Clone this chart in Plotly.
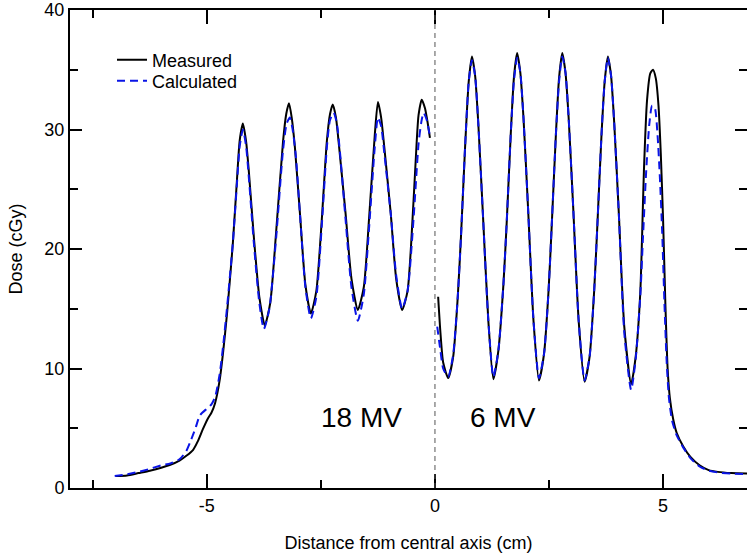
import plotly.graph_objects as go

# ---- data: 18 MV (left of the central axis) ----
x18_meas = [-7.0, -6.75, -6.5, -6.25, -6.0, -5.8, -5.6, -5.45, -5.3, -5.2, -5.09, -4.98, -4.9,
            -4.82, -4.72, -4.64, -4.56, -4.5, -4.43, -4.34, -4.28, -4.21, -4.14, -4.08, -3.97,
            -3.85, -3.73, -3.61, -3.48, -3.33, -3.26, -3.2, -3.14, -3.07, -2.96, -2.84, -2.72,
            -2.6, -2.48, -2.37, -2.3, -2.24, -2.17, -2.1, -1.96, -1.83, -1.69, -1.56, -1.44,
            -1.32, -1.25, -1.18, -1.11, -0.97, -0.85, -0.72, -0.6, -0.47, -0.4, -0.36, -0.29,
            -0.22, -0.17, -0.11]
y18_meas = [1.0, 1.05, 1.25, 1.45, 1.7, 1.95, 2.3, 2.7, 3.2, 3.9, 4.9, 5.8, 6.3,
            7.1, 9.0, 11.5, 14.5, 17.2, 20.5, 25.8, 29.1, 30.5, 29.0, 26.5, 21.0,
            16.0, 13.6, 15.5, 21.5, 29.0, 31.3, 32.2, 31.0, 28.5, 23.0, 17.0, 14.6,
            16.5, 22.5, 29.0, 31.3, 32.1, 31.0, 28.5, 23.0, 17.5, 14.9, 16.8, 22.8,
            29.5, 32.3, 31.0, 28.5, 23.0, 17.5, 14.9, 16.5, 24.0, 29.0, 31.2, 32.5,
            31.8, 30.8, 29.3]

x18_calc = [-7.02, -6.75, -6.5, -6.25, -6.0, -5.8, -5.6, -5.45, -5.37, -5.25, -5.15, -4.98, -4.9,
            -4.82, -4.72, -4.64, -4.56, -4.5, -4.43, -4.34, -4.28, -4.21, -4.14, -4.08, -3.97,
            -3.85, -3.75, -3.63, -3.48, -3.33, -3.25, -3.18, -3.12, -3.05, -2.96, -2.84, -2.72,
            -2.6, -2.48, -2.37, -2.3, -2.22, -2.15, -2.08, -1.96, -1.83, -1.69, -1.56, -1.44,
            -1.32, -1.25, -1.18, -1.11, -0.97, -0.85, -0.72, -0.6, -0.47, -0.36, -0.3, -0.25,
            -0.18, -0.11]
y18_calc = [1.0, 1.15, 1.35, 1.6, 1.9, 2.05, 2.4, 3.1, 3.8, 5.0, 6.1, 6.7, 7.0,
            7.6, 9.5, 12.0, 15.0, 17.5, 20.5, 25.5, 28.6, 30.0, 28.6, 26.0, 20.5,
            15.5, 13.3, 15.0, 21.0, 28.3, 30.5, 31.0, 30.0, 27.8, 23.0, 16.8, 14.2,
            16.0, 22.0, 28.5, 30.8, 31.4, 30.5, 28.0, 22.5, 16.8, 14.0, 16.2, 22.0,
            28.5, 31.0, 30.3, 28.0, 23.0, 17.8, 15.0, 16.5, 22.5, 28.8, 30.6, 31.4,
            30.8, 29.4]

# ---- data: 6 MV (right of the central axis) ----
x6_meas = [0.07, 0.12, 0.18, 0.29, 0.4, 0.5, 0.57, 0.66, 0.74, 0.81, 0.88, 0.95, 1.05, 1.17,
           1.28, 1.39, 1.5, 1.57, 1.66, 1.73, 1.8, 1.87, 1.94, 2.04, 2.16, 2.28, 2.39, 2.49,
           2.56, 2.65, 2.72, 2.79, 2.86, 2.93, 3.03, 3.15, 3.28, 3.39, 3.49, 3.56, 3.65, 3.72,
           3.79, 3.86, 3.93, 4.03, 4.15, 4.3, 4.4, 4.5, 4.54, 4.58, 4.65, 4.72, 4.78, 4.84,
           4.9, 4.95, 5.0, 5.05, 5.1, 5.15, 5.22, 5.3, 5.44, 5.6, 5.8, 6.0, 6.2, 6.5, 6.9]
y6_meas = [16.0, 13.0, 10.5, 9.2, 11.0, 16.0, 21.0, 28.5, 34.0, 36.1, 34.5, 30.5, 23.0, 14.0,
           9.1, 11.5, 17.0, 22.0, 29.5, 34.3, 36.4, 34.8, 31.0, 23.5, 14.0, 9.0, 11.2, 16.5,
           22.0, 29.5, 34.3, 36.4, 34.8, 31.0, 23.5, 14.0, 8.9, 11.0, 16.5, 22.0, 29.5, 34.0,
           36.1, 34.5, 30.5, 23.0, 13.5, 8.7, 11.0, 16.3, 21.0, 26.5, 32.5, 34.7, 35.0, 34.3,
           32.0, 28.0, 22.5, 15.5, 10.0, 7.5, 5.8, 4.6, 3.5, 2.6, 1.9, 1.5, 1.35, 1.25, 1.2]

x6_calc = [0.05, 0.12, 0.18, 0.29, 0.4, 0.5, 0.57, 0.66, 0.74, 0.81, 0.88, 0.95, 1.05, 1.17,
           1.28, 1.39, 1.5, 1.57, 1.66, 1.73, 1.8, 1.87, 1.94, 2.04, 2.16, 2.28, 2.39, 2.49,
           2.56, 2.65, 2.72, 2.79, 2.86, 2.93, 3.03, 3.15, 3.28, 3.39, 3.49, 3.56, 3.65, 3.72,
           3.79, 3.86, 3.93, 4.03, 4.15, 4.3, 4.4, 4.5, 4.56, 4.63, 4.7, 4.76, 4.82, 4.88,
           4.93, 4.98, 5.03, 5.08, 5.13, 5.2, 5.3, 5.44, 5.6, 5.8, 6.0, 6.2, 6.5, 6.9]
y6_calc = [13.5, 11.5, 10.0, 9.3, 11.2, 16.0, 21.0, 28.5, 34.0, 35.8, 34.5, 30.5, 23.0, 14.0,
           9.3, 11.5, 17.0, 22.0, 29.5, 34.0, 36.0, 34.8, 31.0, 23.5, 14.0, 9.2, 11.2, 16.5,
           22.0, 29.5, 34.0, 36.1, 34.8, 31.0, 23.5, 14.0, 9.0, 11.0, 16.5, 22.0, 29.5, 34.0,
           36.0, 34.5, 30.5, 23.0, 13.0, 8.2, 10.8, 16.0, 21.0, 26.5, 30.5, 32.0, 31.8, 29.5,
           26.0, 21.5, 15.5, 10.5, 7.5, 5.6, 4.4, 3.4, 2.5, 1.8, 1.45, 1.3, 1.2, 1.15]

labels = ["Measured", "Calculated"]
energy_labels = ["18 MV", "6 MV"]
energy_pos = [(-1.6, 5.9), (1.5, 5.9)]
x_tickvals = [-5, 0, 5]
x_ticktext = ["-5", "0", "5"]
y_tickvals = [0, 10, 20, 30, 40]

FONT = "Liberation Sans, Arial, Helvetica, sans-serif"

fig = go.Figure()
fig.add_trace(go.Scatter(
    x=x18_meas + [None] + x6_meas, y=y18_meas + [None] + y6_meas,
    mode="lines", name=labels[0], connectgaps=False, legend="legend",
    line=dict(color="black", width=2, shape="spline", smoothing=0.6)))
fig.add_trace(go.Scatter(
    x=x18_calc + [None] + x6_calc, y=y18_calc + [None] + y6_calc,
    mode="lines", name=labels[1], connectgaps=False, legend="legend2",
    line=dict(color="#0a14e6", width=2, dash="8px,5px", shape="spline", smoothing=0.6)))

fig.add_vline(x=0, line=dict(color="#555555", width=1, dash="5px,4px"))

for txt, (ax_, ay_) in zip(energy_labels, energy_pos):
    fig.add_annotation(x=ax_, y=ay_, text=txt, showarrow=False,
                       font=dict(family=FONT, size=28, color="black"))

legend_common = dict(xanchor="left", yanchor="middle", bgcolor="rgba(0,0,0,0)",
                     borderwidth=0, font=dict(family=FONT, size=18, color="black"))

fig.update_layout(
    width=747, height=556,
    margin=dict(l=70, r=0, t=10, b=68, autoexpand=False),
    paper_bgcolor="white", plot_bgcolor="white",
    font=dict(family=FONT, size=18, color="black"),
    showlegend=True,
    legend=dict(x=(112 - 70) / 677, y=(488 - 60) / 478, **legend_common),
    legend2=dict(x=(112 - 70) / 677, y=(488 - 81) / 478, **legend_common),
    xaxis=dict(range=[-8.0, 6.84], showgrid=False, zeroline=False,
               showline=True, linecolor="black", linewidth=2, mirror="ticks",
               ticks="inside", ticklen=14, tickwidth=2, tickcolor="black",
               tickvals=x_tickvals, ticktext=x_ticktext,
               minor=dict(ticks="inside", ticklen=8, tickwidth=2, tickcolor="black",
                          dtick=2.5, tick0=0, showgrid=False),
               title=dict(text="Distance from central axis (cm)", standoff=22,
                          font=dict(family=FONT, size=18)),
               tickfont=dict(family=FONT, size=18)),
    yaxis=dict(range=[0, 40], showgrid=False, zeroline=False,
               showline=True, linecolor="black", linewidth=2, mirror="ticks",
               ticks="inside", ticklen=12, tickwidth=2, tickcolor="black",
               tickvals=y_tickvals,
               minor=dict(ticks="inside", ticklen=8, tickwidth=2, tickcolor="black",
                          dtick=5, tick0=0, showgrid=False),
               title=dict(text="Dose (cGy)", standoff=17, font=dict(family=FONT, size=18)),
               tickfont=dict(family=FONT, size=18)),
)

fig.write_html("out.html")
